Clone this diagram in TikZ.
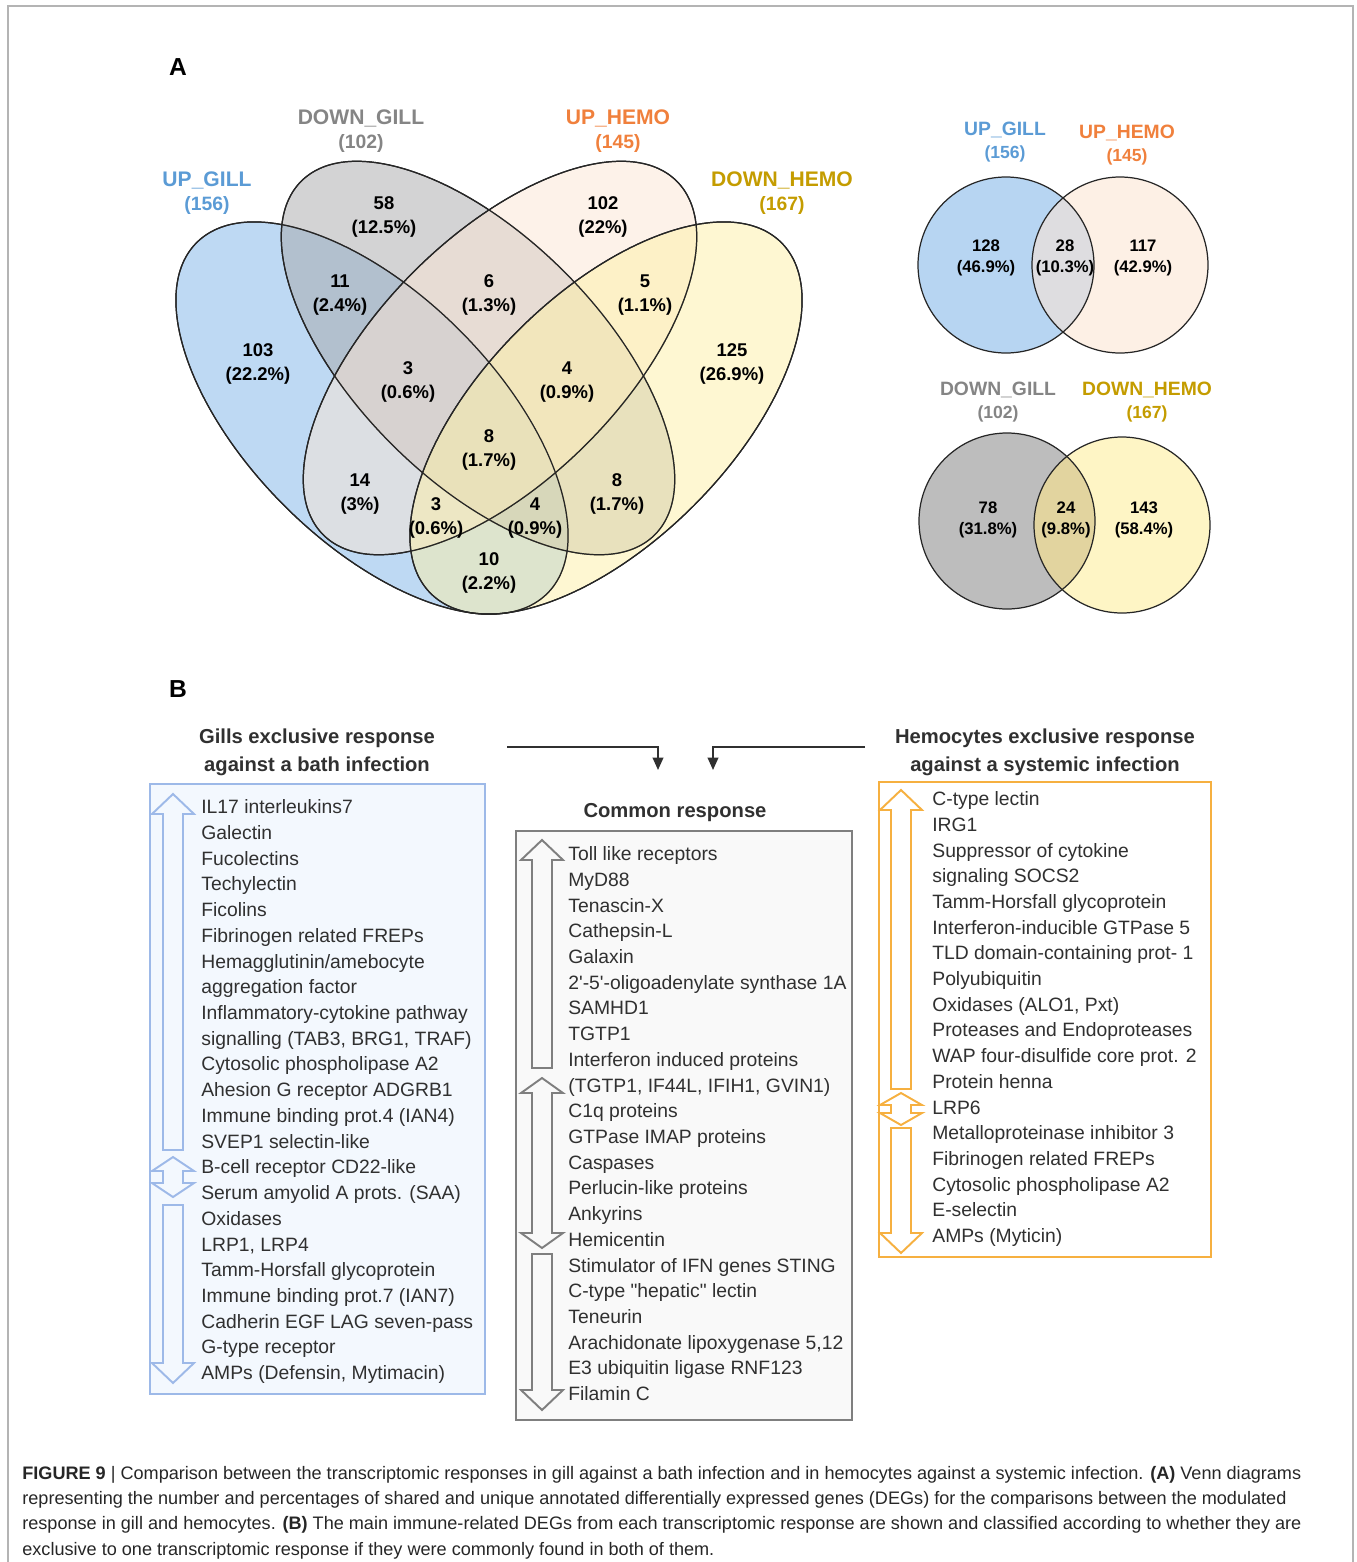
\documentclass[tikz,border=0pt]{standalone}
\usepackage{fontspec}
\setmainfont{Liberation Sans}[Ligatures=TeXOff]
\newfontfamily\capfont{Liberation Sans}
\usetikzlibrary{arrows.meta}

\definecolor{upgill}{HTML}{5B9BD5}
\definecolor{downgill}{HTML}{858585}
\definecolor{uphemo}{HTML}{F0803C}
\definecolor{downhemo}{HTML}{C49C00}
\definecolor{fillA}{HTML}{7DB3E8}
\definecolor{fillB}{HTML}{A8A7AA}
\definecolor{fillC}{HTML}{FBE6D4}
\definecolor{fillD}{HTML}{FDF0A6}
\definecolor{upov}{HTML}{DEDDE0}
\definecolor{downov}{HTML}{E2D49F}
\definecolor{blueline}{HTML}{9DB9E8}
\definecolor{blueback}{HTML}{F3F8FE}
\definecolor{grayline}{HTML}{7F7F7F}
\definecolor{grayback}{HTML}{F9F9F9}
\definecolor{orangeline}{HTML}{F6B040}
\definecolor{txt}{HTML}{303030}
\definecolor{frame}{HTML}{B4B4B4}

% hollow block arrows: colour, x, first y, second y
\newcommand{\uparrowbox}[4]{%
  \draw[#1, line width=1.1pt, line join=miter] (#2,#3) -- ++(21,20) -- ++(-11,0)
    -- ({#2+10},#4) -- ({#2-10},#4) -- ({#2-10},{#3+20}) -- ++(-11,0) -- cycle;}
\newcommand{\downarrowbox}[4]{%
  \draw[#1, line width=1.1pt, line join=miter] ({#2-10},#3) -- ({#2+10},#3)
    -- ({#2+10},{#4-20}) -- ++(11,0) -- (#2,#4) -- ({#2-21},{#4-20}) -- ++(11,0) -- cycle;}
\newcommand{\botharrowbox}[5]{%
  \draw[#1, line width=1.1pt, line join=miter] (#2,#3) -- ++(21,#5) -- ++(-11,0)
    -- ({#2+10},{#4-#5}) -- ++(11,0) -- (#2,#4) -- ({#2-21},{#4-#5}) -- ++(11,0)
    -- ({#2-10},{#3+#5}) -- ++(-11,0) -- cycle;}

\begin{document}
\begin{tikzpicture}[x=0.02cm, y=-0.02cm,
  panel/.style={font=\fontsize{14}{16}\selectfont\bfseries},
  setlbl/.style={font=\fontsize{12}{14}\selectfont\bfseries, align=center},
  smalllbl/.style={font=\fontsize{11}{13}\selectfont\bfseries, align=center},
  cnt/.style={font=\fontsize{10.5}{13.6}\selectfont\bfseries, align=center, inner sep=0pt},
  smallcnt/.style={font=\fontsize{9.5}{12.2}\selectfont\bfseries, align=center, inner sep=0pt},
  venn/.style={draw=black!85, line width=0.7pt, fill opacity=0.5},
  hd/.style={font=\fontsize{11.5}{15.9}\selectfont\bfseries, text=txt, align=center},
  item/.style={font=\fontsize{11}{13}\selectfont, text=txt, anchor=mid west, inner sep=0pt},
  conn/.style={draw=txt, line width=1.1pt, -{Triangle[length=7pt, width=6pt]}},
  caption/.style={font=\capfont\fontsize{10.3}{13}\selectfont, text=black!85, anchor=mid west, inner sep=0pt}]

\useasboundingbox (0,0) rectangle (1356,1562);
\draw[frame, line width=0.9pt] (8,1562) -- (8,6) -- (1353,6) -- (1353,1562);

% panel A
\node[panel] (pa) at (178,67) {A};

\fill[venn, fill=fillA, rotate around={-45:(372,418)}] (372,418) ellipse [x radius=248, y radius=124];
\fill[venn, fill=fillB, rotate around={-45:(478,358)}] (478,358) ellipse [x radius=250, y radius=122];
\fill[venn, fill=fillC, rotate around={45:(500,358)}] (500,358) ellipse [x radius=250, y radius=122];
\fill[venn, fill=fillD, rotate around={45:(606,418)}] (606,418) ellipse [x radius=248, y radius=124];
\draw[venn, rotate around={-45:(372,418)}] (372,418) ellipse [x radius=248, y radius=124];
\draw[venn, rotate around={-45:(478,358)}] (478,358) ellipse [x radius=250, y radius=122];
\draw[venn, rotate around={45:(500,358)}] (500,358) ellipse [x radius=250, y radius=122];
\draw[venn, rotate around={45:(606,418)}] (606,418) ellipse [x radius=248, y radius=124];

\node[setlbl, text=upgill] (lupgill) at (207,193) {UP\_GILL\\{\fontsize{11}{13}\selectfont(156)}};
\node[setlbl, text=downgill] (ldowngill) at (361,131) {DOWN\_GILL\\{\fontsize{11}{13}\selectfont(102)}};
\node[setlbl, text=uphemo] (luphemo) at (618,131) {UP\_HEMO\\{\fontsize{11}{13}\selectfont(145)}};
\node[setlbl, text=downhemo] (ldownhemo) at (782,193) {DOWN\_HEMO\\{\fontsize{11}{13}\selectfont(167)}};

\foreach \x/\y/\n/\p [count=\i] in {258/364/103/22.2, 384/217/58/12.5, 603/217/102/22,
    732/364/125/26.9, 340/295/11/2.4, 489/295/6/1.3, 645/295/5/1.1, 408/382/3/0.6,
    567/382/4/0.9, 489/450/8/1.7, 360/494/14/3, 617/494/8/1.7, 436/518/3/0.6,
    535/518/4/0.9, 489/573/10/2.2}
  \node[cnt] (r\i) at (\x,\y) {\n\\(\p\%)};

% two-set diagrams
\fill[fill=fillA!55] (1006,265) circle [radius=88];
\fill[fill=fillC!60] (1120,265) circle [radius=88];
\begin{scope}
  \clip (1006,265) circle [radius=88];
  \fill[fill=upov] (1120,265) circle [radius=88];
\end{scope}
\draw[black!85, line width=0.7pt] (1006,265) circle [radius=88];
\draw[black!85, line width=0.7pt] (1120,265) circle [radius=88];

\fill[fill=black!26] (1007,521) circle [radius=88];
\fill[fill=fillD!65] (1122,525) circle [radius=88];
\begin{scope}
  \clip (1007,521) circle [radius=88];
  \fill[fill=downov] (1122,525) circle [radius=88];
\end{scope}
\draw[black!85, line width=0.7pt] (1007,521) circle [radius=88];
\draw[black!85, line width=0.7pt] (1122,525) circle [radius=88];

\node[smalllbl, text=upgill] (supgill) at (1005,142) {UP\_GILL\\{\fontsize{10}{12}\selectfont(156)}};
\node[smalllbl, text=uphemo] (suphemo) at (1127,145) {UP\_HEMO\\{\fontsize{10}{12}\selectfont(145)}};
\node[smalllbl, text=downgill] (sdowngill) at (998,402) {DOWN\_GILL\\{\fontsize{10}{12}\selectfont(102)}};
\node[smalllbl, text=downhemo] (sdownhemo) at (1147,402) {DOWN\_HEMO\\{\fontsize{10}{12}\selectfont(167)}};

\foreach \x/\y/\n/\p [count=\i] in {986/258/128/46.9, 1065/258/28/10.3, 1143/258/117/42.9,
    988/520/78/31.8, 1066/520/24/9.8, 1144/520/143/58.4}
  \node[smallcnt] (s\i) at (\x,\y) {\n\\(\p\%)};

% panel B
\node[panel] (pb) at (178,689) {B};

\node[hd] (hgill) at (317,752) {Gills exclusive response\\against a bath infection};
\node[hd] (hhemo) at (1045,752) {Hemocytes exclusive response\\against a systemic infection};
\node[hd] (hcommon) at (675,813) {Common response};

\coordinate (gillout) at (507,747);
\coordinate (gillin) at (658,770);
\coordinate (hemoout) at (865,747);
\coordinate (hemoin) at (713,770);
\draw[conn] (gillout) -| (gillin);
\draw[conn] (hemoout) -| (hemoin);

\draw[blueline, fill=blueback, line width=1.1pt] (150,784) rectangle (485,1394);
\draw[grayline, fill=grayback, line width=1.1pt] (516,831) rectangle (852,1420);
\draw[orangeline, fill=white, line width=1.1pt] (879,782) rectangle (1211,1257);

\uparrowbox{blueline}{173}{794}{1150}
\botharrowbox{blueline}{173}{1157}{1197}{14}
\downarrowbox{blueline}{173}{1205}{1383}

\uparrowbox{grayline}{542}{840}{1068}
\botharrowbox{grayline}{542}{1078}{1248}{15}
\downarrowbox{grayline}{542}{1254}{1410}

\uparrowbox{orangeline}{901}{790}{1089}
\botharrowbox{orangeline}{901}{1093}{1125}{12}
\downarrowbox{orangeline}{901}{1128}{1253}

\foreach \t [count=\i from 0] in {IL17 interleukins7, Galectin, Fucolectins, Techylectin,
    Ficolins, Fibrinogen related FREPs, {Hemagglutinin/amebocyte}, aggregation factor,
    Inflammatory-cytokine pathway, {signalling (TAB3, BRG1, TRAF)}, Cytosolic phospholipase A2,
    Ahesion G receptor ADGRB1, Immune binding prot.4 (IAN4), SVEP1 selectin-like,
    B-cell receptor CD22-like, Serum amyolid A prots. (SAA), Oxidases, {LRP1, LRP4},
    Tamm-Horsfall glycoprotein, Immune binding prot.7 (IAN7), Cadherin EGF LAG seven-pass,
    G-type receptor, {AMPs (Defensin, Mytimacin)}}
  \node[item] (g\i) at (201,{809+25.73*\i}) {\t};

\foreach \t [count=\i from 0] in {Toll like receptors, MyD88, Tenascin-X, Cathepsin-L, Galaxin,
    2'-5'-oligoadenylate synthase 1A, SAMHD1, TGTP1, Interferon induced proteins,
    {(TGTP1, IF44L, IFIH1, GVIN1)}, C1q proteins, GTPase IMAP proteins, Caspases,
    Perlucin-like proteins, Ankyrins, Hemicentin, Stimulator of IFN genes STING,
    C-type "hepatic" lectin, Teneurin, {Arachidonate lipoxygenase 5,12},
    E3 ubiquitin ligase RNF123, Filamin C}
  \node[item] (c\i) at (568,{856+25.71*\i}) {\t};

\foreach \t [count=\i from 0] in {C-type lectin, IRG1, Suppressor of cytokine, signaling SOCS2,
    Tamm-Horsfall glycoprotein, Interferon-inducible GTPase 5, TLD domain-containing prot- 1,
    Polyubiquitin, {Oxidases (ALO1, Pxt)}, Proteases and Endoproteases,
    WAP four-disulfide core prot. 2, Protein henna, LRP6, Metalloproteinase inhibitor 3,
    Fibrinogen related FREPs, Cytosolic phospholipase A2, E-selectin, AMPs (Myticin)}
  \node[item] (h\i) at (932,{801+25.7*\i}) {\t};

% caption
\node[caption] (cap1) at (22,1475) {\textbf{FIGURE 9} | Comparison between the transcriptomic responses in gill against a bath infection and in hemocytes against a systemic infection. \textbf{(A)} Venn diagrams};
\node[caption] (cap2) at (22,1500) {representing the number and percentages of shared and unique annotated differentially expressed genes (DEGs) for the comparisons between the modulated};
\node[caption] (cap3) at (22,1525) {response in gill and hemocytes. \textbf{(B)} The main immune-related DEGs from each transcriptomic response are shown and classified according to whether they are};
\node[caption] (cap4) at (22,1551) {exclusive to one transcriptomic response if they were commonly found in both of them.};
\end{tikzpicture}
\end{document}
